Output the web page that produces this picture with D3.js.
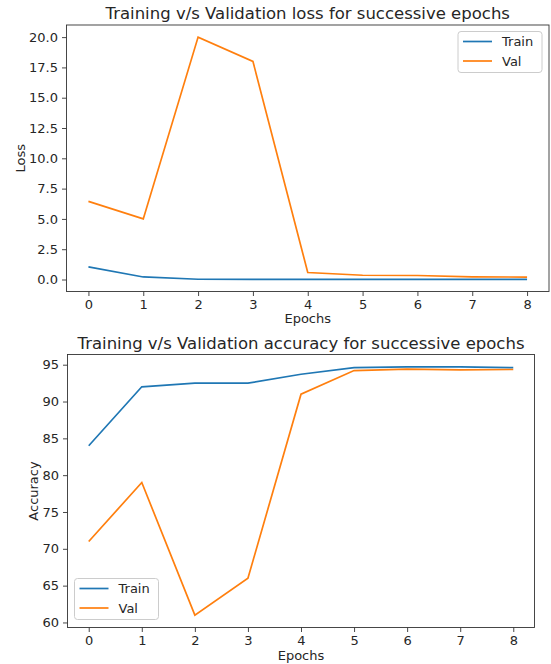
<!DOCTYPE html>
<html>
<head>
<meta charset="utf-8">
<script src="https://cdn.jsdelivr.net/npm/d3@7"></script>
<style>
  body { margin: 0; background: #fff; }
  text { font-family: "DejaVu Sans", sans-serif; fill: #262626; }
</style>
</head>
<body>
<div id="chart"></div>
<script>
const epochs = [0, 1, 2, 3, 4, 5, 6, 7, 8];

const lossTrain = [1.04, 0.21, 0.02, 0.01, 0.01, 0.01, 0.01, 0.01, 0.01];
const lossVal = [6.45, 5.0, 20.0, 18.0, 0.58, 0.35, 0.33, 0.22, 0.2];
const lossTicks = [0, 2.5, 5, 7.5, 10, 12.5, 15, 17.5, 20];

const accTrain = [84.0, 92.0, 92.5, 92.5, 93.7, 94.6, 94.7, 94.7, 94.6];
const accVal = [71.0, 79.0, 61.0, 66.0, 91.0, 94.2, 94.4, 94.3, 94.35];
const accTicks = [60, 65, 70, 75, 80, 85, 90, 95];

const seriesNames = ['Train', 'Val'];
const colors = ['#1f77b4', '#ff7f0e'];

const svg = d3.select('#chart')
    .append('svg')
    .attr('width', 551)
    .attr('height', 664);

function drawPanel(opts) {
    const { left, top, right, bottom } = opts.box;
    const g = svg.append('g');

    // matplotlib style 5% padding on the data range
    const yMin = d3.min(opts.series.flat());
    const yMax = d3.max(opts.series.flat());
    const pad = (yMax - yMin) * 0.05;

    const x = d3.scaleLinear().domain([-0.4, 8.4]).range([left, right]);
    const y = d3.scaleLinear().domain([yMin - pad, yMax + pad]).range([bottom, top]);

    // axes
    const xAxis = d3.axisBottom(x).tickValues(epochs).tickSize(4.5).tickPadding(4).tickFormat(d3.format('d'));
    const yAxis = d3.axisLeft(y).tickValues(opts.ticks).tickSize(4.5).tickPadding(4).tickFormat(d3.format(opts.fmt));

    const gx = g.append('g').attr('transform', `translate(0,${bottom})`).call(xAxis);
    const gy = g.append('g').attr('transform', `translate(${left},0)`).call(yAxis);
    [gx, gy].forEach(a => {
        a.select('.domain').remove();
        a.selectAll('line').attr('stroke', '#333').attr('stroke-width', 0.9);
        a.selectAll('text').attr('font-size', 13).attr('fill', '#262626')
            .style('font-family', '"DejaVu Sans", sans-serif');
    });

    // lines
    const line = d3.line().x((d, i) => x(epochs[i])).y(d => y(d));
    opts.series.forEach((s, i) => {
        g.append('path')
            .datum(s)
            .attr('fill', 'none')
            .attr('stroke', colors[i])
            .attr('stroke-width', 1.7)
            .attr('d', line);
    });

    // frame
    g.append('rect')
        .attr('x', left).attr('y', top)
        .attr('width', right - left).attr('height', bottom - top)
        .attr('fill', 'none')
        .attr('stroke', '#333')
        .attr('stroke-width', 0.9);

    // title and labels
    g.append('text')
        .attr('x', (left + right) / 2).attr('y', top - 6)
        .attr('text-anchor', 'middle')
        .attr('font-size', 16.5)
        .text(opts.title);

    g.append('text')
        .attr('x', (left + right) / 2).attr('y', opts.xLabelY)
        .attr('text-anchor', 'middle')
        .attr('font-size', 13)
        .text('Epochs');

    g.append('text')
        .attr('transform', `translate(${opts.yLabelX},${(top + bottom) / 2}) rotate(-90)`)
        .attr('text-anchor', 'middle')
        .attr('font-size', 13)
        .text(opts.yLabel);

    // legend
    const lg = opts.legend;
    const leg = g.append('g').attr('transform', `translate(${lg.x},${lg.y})`);
    leg.append('rect')
        .attr('width', 84).attr('height', 41)
        .attr('rx', 3)
        .attr('fill', 'rgba(255,255,255,0.8)')
        .attr('stroke', '#ccc');
    seriesNames.forEach((name, i) => {
        const ly = 10 + i * 19.5;
        leg.append('line')
            .attr('x1', 5).attr('x2', 34)
            .attr('y1', ly).attr('y2', ly)
            .attr('stroke', colors[i])
            .attr('stroke-width', 1.7);
        leg.append('text')
            .attr('x', 44).attr('y', ly + 4.5)
            .attr('font-size', 13)
            .text(name);
    });
}

drawPanel({
    box: { left: 66.5, top: 25, right: 549, bottom: 291.5 },
    series: [lossTrain, lossVal],
    ticks: lossTicks,
    fmt: '.1f',
    title: 'Training v/s Validation loss for successive epochs',
    yLabel: 'Loss',
    xLabelY: 323,
    yLabelX: 25,
    legend: { x: 458, y: 31.5 }
});

drawPanel({
    box: { left: 67.5, top: 354.5, right: 534.5, bottom: 627.5 },
    series: [accTrain, accVal],
    ticks: accTicks,
    fmt: 'd',
    title: 'Training v/s Validation accuracy for successive epochs',
    yLabel: 'Accuracy',
    xLabelY: 660,
    yLabelX: 38,
    legend: { x: 74.5, y: 578.5 }
});
</script>
</body>
</html>
